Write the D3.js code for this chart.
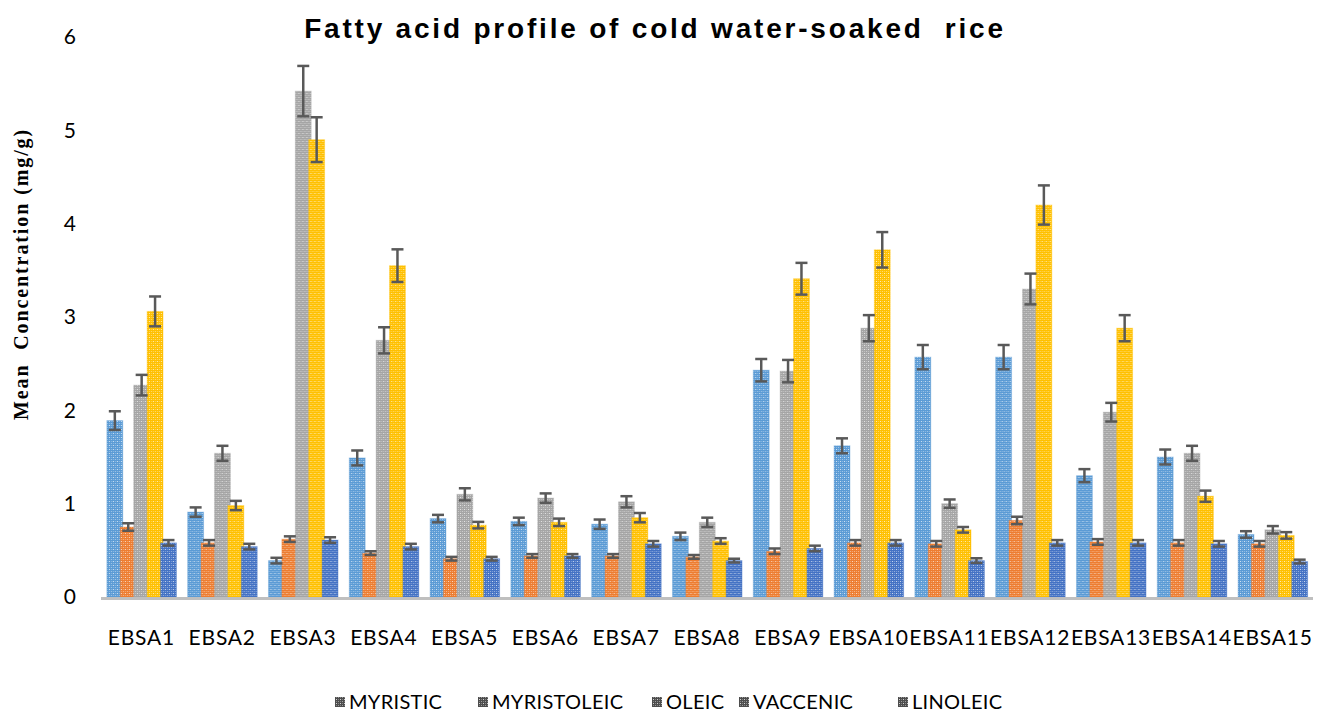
<!DOCTYPE html>
<html>
<head>
<meta charset="UTF-8">
<title>Fatty acid profile of cold water-soaked rice</title>
<style>
  body { margin: 0; background: #fff; }
  text { white-space: pre; }
</style>
</head>
<body>
<script src="https://d3js.org/d3.v7.min.js"></script>
<script>
// data
var samples = ["EBSA1","EBSA2","EBSA3","EBSA4","EBSA5","EBSA6","EBSA7","EBSA8","EBSA9","EBSA10","EBSA11","EBSA12","EBSA13","EBSA14","EBSA15"];
var acids = ["MYRISTIC","MYRISTOLEIC","OLEIC","VACCENIC","LINOLEIC"];

var myristic    = [1.89, 0.91, 0.39, 1.49, 0.84, 0.81, 0.78, 0.65, 2.43, 1.62, 2.57, 2.57, 1.30, 1.50, 0.67];
var myristoleic = [0.75, 0.58, 0.62, 0.47, 0.41, 0.44, 0.44, 0.43, 0.49, 0.58, 0.57, 0.82, 0.59, 0.58, 0.57];
var oleic       = [2.27, 1.54, 5.42, 2.75, 1.10, 1.06, 1.02, 0.80, 2.42, 2.88, 1.00, 3.30, 1.98, 1.54, 0.72];
var vaccenic    = [3.06, 0.98, 4.90, 3.55, 0.77, 0.80, 0.85, 0.60, 3.41, 3.72, 0.72, 4.20, 2.88, 1.08, 0.66];
var linoleic    = [0.58, 0.54, 0.61, 0.54, 0.41, 0.44, 0.57, 0.39, 0.52, 0.58, 0.39, 0.58, 0.58, 0.57, 0.38];

var errMyristic    = [0.10, 0.05, 0.03, 0.08, 0.04, 0.04, 0.05, 0.04, 0.12, 0.08, 0.13, 0.13, 0.07, 0.08, 0.035];
var errMyristoleic = [0.04, 0.03, 0.03, 0.02, 0.02, 0.02, 0.02, 0.02, 0.03, 0.03, 0.03, 0.04, 0.03, 0.03, 0.03];
var errOleic       = [0.11, 0.08, 0.27, 0.14, 0.065, 0.05, 0.06, 0.05, 0.12, 0.14, 0.045, 0.165, 0.10, 0.08, 0.04];
var errVaccenic    = [0.16, 0.05, 0.24, 0.175, 0.035, 0.04, 0.05, 0.03, 0.17, 0.19, 0.03, 0.21, 0.14, 0.06, 0.035];
var errLinoleic    = [0.03, 0.03, 0.03, 0.03, 0.02, 0.02, 0.03, 0.02, 0.03, 0.03, 0.025, 0.03, 0.03, 0.03, 0.02];

var yTicks = [0, 1, 2, 3, 4, 5, 6];

var seriesValues = [myristic, myristoleic, oleic, vaccenic, linoleic];
var seriesErrors = [errMyristic, errMyristoleic, errOleic, errVaccenic, errLinoleic];
var colors = ["#5b9bd5", "#ed7d31", "#a5a5a5", "#ffc000", "#4472c4"];

var width = 1326, height = 715;
var margin = { top: 37, right: 13, bottom: 118, left: 101 };

var svg = d3.select("body").append("svg")
    .attr("width", width)
    .attr("height", height);

// fill patterns, one per series plus the legend one
var defs = svg.append("defs");
function makePattern(id, color) {
  var p = defs.append("pattern")
      .attr("id", id)
      .attr("width", 4).attr("height", 4)
      .attr("patternUnits", "userSpaceOnUse");
  p.append("rect").attr("width", 4).attr("height", 4).attr("fill", color);
  p.append("rect").attr("x", 1).attr("y", 1).attr("width", 1).attr("height", 1).attr("fill", "#fff").attr("opacity", 0.75);
  p.append("rect").attr("x", 3).attr("y", 3).attr("width", 1).attr("height", 1).attr("fill", "#fff").attr("opacity", 0.45);
  p.append("rect").attr("x", 3).attr("y", 1).attr("width", 1).attr("height", 1).attr("fill", "#fff").attr("opacity", 0.3);
  p.append("rect").attr("x", 1).attr("y", 3).attr("width", 1).attr("height", 1).attr("fill", "#fff").attr("opacity", 0.3);
}
colors.forEach(function(c, i) { makePattern("pat" + i, c); });
makePattern("patLegend", "#4d4d4d");

var x0 = d3.scaleBand()
    .domain(samples)
    .range([margin.left, width - margin.right])
    .paddingInner(0.17)
    .paddingOuter(0.085);

var x1 = d3.scaleBand()
    .domain(acids)
    .range([0, x0.bandwidth()]);

var y = d3.scaleLinear()
    .domain([0, 6])
    .range([height - margin.bottom, margin.top]);

// title
svg.append("text")
    .attr("x", 655)
    .attr("y", 38)
    .attr("text-anchor", "middle")
    .attr("font-family", "Liberation Sans, Arial, sans-serif")
    .attr("font-weight", "bold")
    .attr("font-size", 28)
    .attr("letter-spacing", 2.8)
    .attr("fill", "#000")
    .text("Fatty acid profile of cold water-soaked  rice");

// y axis label
svg.append("text")
    .attr("transform", "translate(28," + 274 + ") rotate(-90)")
    .attr("text-anchor", "middle")
    .attr("font-family", "Liberation Serif, Times New Roman, serif")
    .attr("font-weight", "bold")
    .attr("font-size", 20)
    .attr("letter-spacing", 1.9)
    .text("Mean  Concentration (mg/g)");

// y tick labels (no axis line in the original)
svg.append("g")
    .selectAll("text")
    .data(yTicks)
    .join("text")
    .attr("x", 76)
    .attr("y", function(d) { return y(d); })
    .attr("dy", "0.35em")
    .attr("text-anchor", "end")
    .attr("font-family", "Lato, sans-serif")
    .attr("font-size", 21)
    .attr("fill", "#000")
    .text(function(d) { return d; });

// bars
var groups = svg.append("g")
    .selectAll("g")
    .data(samples)
    .join("g")
    .attr("transform", function(d) { return "translate(" + x0(d) + ",0)"; });

var barData = function(s, i) {
  return acids.map(function(a, k) {
    return { acid: a, k: k, value: seriesValues[k][i], err: seriesErrors[k][i] };
  });
};

groups.selectAll("rect")
    .data(barData)
    .join("rect")
    .attr("x", function(d) { return x1(d.acid) - 1; })
    .attr("width", x1.bandwidth() + 2.5)
    .attr("y", function(d) { return y(d.value); })
    .attr("height", function(d) { return y(0) - y(d.value); })
    .attr("fill", function(d) { return "url(#pat" + d.k + ")"; })
    .attr("stroke", function(d) { return colors[d.k]; })
    .attr("stroke-opacity", 0.35)
    .attr("stroke-width", 1);

// x axis line
svg.append("line")
    .attr("x1", margin.left).attr("x2", width - margin.right)
    .attr("y1", y(0) + 1.5).attr("y2", y(0) + 1.5)
    .attr("stroke", "#bfbfbf")
    .attr("stroke-width", 3);

// error bars
var eb = groups.selectAll("g.err")
    .data(barData)
    .join("g")
    .attr("class", "err")
    .attr("stroke", "#595959")
    .attr("stroke-width", 2.5);
var cx = function(d) { return x1(d.acid) + x1.bandwidth() / 2 + 0.25; };
eb.append("line")
    .attr("x1", cx).attr("x2", cx)
    .attr("y1", function(d) { return y(d.value + d.err); })
    .attr("y2", function(d) { return y(d.value - d.err); });
eb.append("line")
    .attr("x1", function(d) { return cx(d) - 6; }).attr("x2", function(d) { return cx(d) + 6; })
    .attr("y1", function(d) { return y(d.value + d.err); })
    .attr("y2", function(d) { return y(d.value + d.err); });
eb.append("line")
    .attr("x1", function(d) { return cx(d) - 6; }).attr("x2", function(d) { return cx(d) + 6; })
    .attr("y1", function(d) { return y(d.value - d.err); })
    .attr("y2", function(d) { return y(d.value - d.err); });

// category labels
svg.append("g")
    .selectAll("text")
    .data(samples)
    .join("text")
    .attr("x", function(d) { return x0(d) + x0.bandwidth() / 2; })
    .attr("y", 645)
    .attr("text-anchor", "middle")
    .attr("font-family", "Lato, sans-serif")
    .attr("font-size", 21)
    .attr("letter-spacing", 0.8)
    .attr("fill", "#000")
    .text(function(d) { return d; });

// legend
var legendX = [335, 478, 652, 739, 898];
var legend = svg.append("g")
    .selectAll("g")
    .data(acids)
    .join("g")
    .attr("transform", function(d, i) { return "translate(" + legendX[i] + ",702)"; });
legend.append("rect")
    .attr("x", 0).attr("y", -5)
    .attr("width", 10).attr("height", 10)
    .attr("fill", "url(#patLegend)");
legend.append("text")
    .attr("x", 14)
    .attr("dy", "0.35em")
    .attr("font-family", "Lato, sans-serif")
    .attr("font-size", 20)
    .attr("letter-spacing", 0.3)
    .attr("fill", "#000")
    .text(function(d) { return d; });
</script>
</body>
</html>
